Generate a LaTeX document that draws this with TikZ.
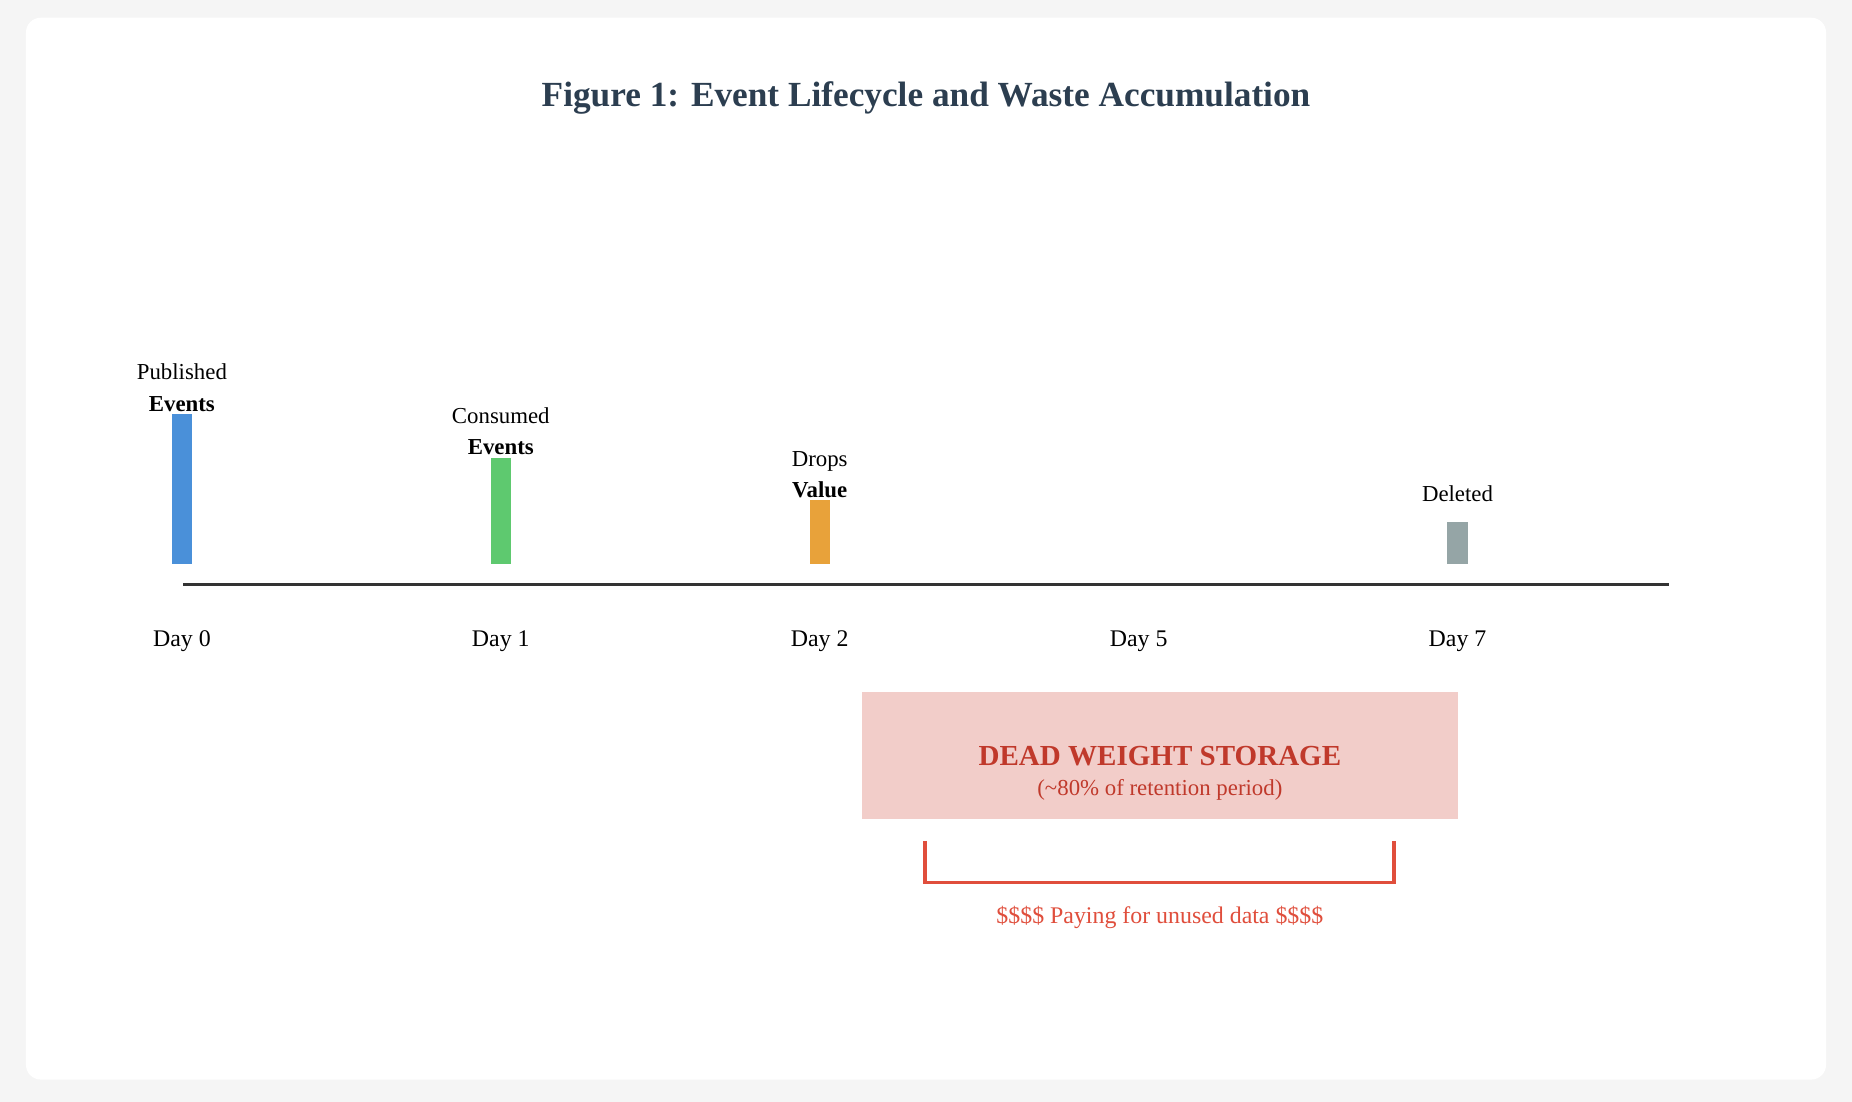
\documentclass[tikz,border=0pt]{standalone}
\usepackage{fontspec}
\setmainfont{Liberation Serif}
\usetikzlibrary{positioning}
\definecolor{titlec}{HTML}{2C3E50}
\definecolor{axisc}{HTML}{333333}
\definecolor{pubc}{HTML}{4A90D9}
\definecolor{conc}{HTML}{5EC96F}
\definecolor{dropc}{HTML}{E8A23A}
\definecolor{delc}{HTML}{95A5A6}
\definecolor{deadc}{HTML}{F2CDC9}
\definecolor{deadt}{HTML}{C0392B}
\definecolor{brackc}{HTML}{E04E3C}

\begin{document}
\begin{tikzpicture}[x=0.02cm,y=-0.02cm,font=\fontsize{11.5}{13}\selectfont]
    \tikzstyle{bar}=[draw=none,minimum width=0.34cm,inner sep=0pt,anchor=south]
    \tikzstyle{lbl}=[align=center,inner sep=1pt,anchor=south,font=\fontsize{11}{15}\selectfont]
    \tikzstyle{day}=[font=\fontsize{11.5}{13}\selectfont]
    \fill[gray!8] (0,0) rectangle (1568,933);
    \fill[white,rounded corners=0.25cm] (22,15) rectangle (1546,914);
    \node[font=\bfseries\fontsize{17}{20}\selectfont,text=titlec] (title) at (784,83) {Figure 1: Event Lifecycle and Waste Accumulation};

    % bars
    \node[bar,fill=pubc,minimum height=2.54cm] (b0) at (154,478) {};
    \node[bar,fill=conc,minimum height=1.8cm] (b1) at (424,478) {};
    \node[bar,fill=dropc,minimum height=1.08cm] (b2) at (694,478) {};
    \node[bar,fill=delc,minimum height=0.72cm] (b7) at (1234,478) {};
    \node[lbl] (l0) at (b0.north) {Published\\\textbf{Events}};
    \node[lbl] (l1) at (b1.north) {Consumed\\\textbf{Events}};
    \node[lbl] (l2) at (b2.north) {Drops\\\textbf{Value}};
    \node[lbl,above=8pt of b7.north,anchor=south] (l7) {Deleted};

    % axis
    \coordinate (a0) at (155,495);
    \coordinate (a1) at (1413,495);
    \draw[axisc,line width=1.7pt] (a0) -- (a1);
    \foreach \x/\d in {154/0,424/1,694/2,964/5,1234/7}
        \node[day] (d\d) at (\x,543) {Day \d};

    % dead weight
    \fill[deadc] (730,586) rectangle (1234,693);
    \node[text=deadt,font=\bfseries\fontsize{14}{16}\selectfont] (dead) at (982,640) {DEAD WEIGHT STORAGE};
    \node[text=deadt,font=\fontsize{11}{13}\selectfont] (deadsub) at (982,669) {(\textasciitilde80\% of retention period)};
    \coordinate (k0) at (783,712);
    \coordinate (k1) at (1180,712);
    \draw[brackc,line width=1.7pt] (k0) -- (783,747) -- (1180,747) -- (k1);
    \node[text=brackc,font=\fontsize{11.5}{13}\selectfont] (pay) at (982,777) {\$\$\$\$ Paying for unused data \$\$\$\$};
\end{tikzpicture}
\end{document}
